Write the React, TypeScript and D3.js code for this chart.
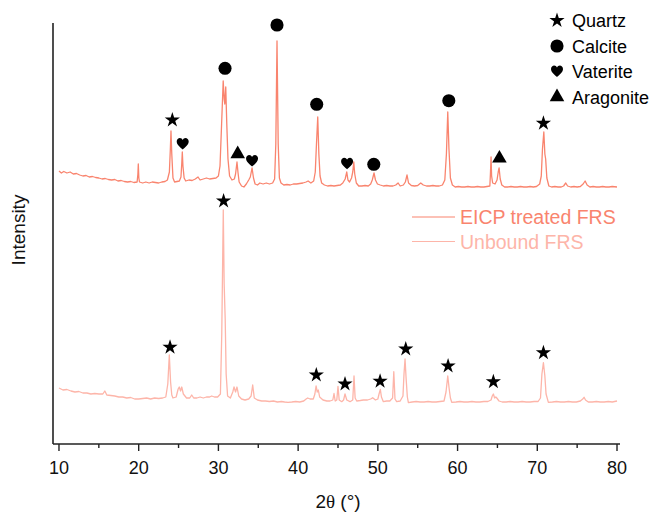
import React from "react";
import * as d3 from "d3";

// ---- Data (2θ in degrees, intensity in arbitrary units) ----
const eicpTreated: [number, number][] = [
  [10.0,273],[10.3,271],[10.6,272.5],[11.0,271],[11.4,272],[11.8,270],[12.2,270.5],[12.6,269],[13.0,268],[13.4,268.5],[13.8,267],[14.2,267.5],[14.6,266.5],[15.0,266],[15.4,265],[15.8,265.5],[16.2,264.5],[16.6,264],[17.0,264.5],[17.4,263],[17.8,263.5],[18.2,262.5],[18.6,262],[19.0,262.5],[19.4,261.5],[19.8,262],[19.9,270],[19.95,280],[20.02,266],[20.1,262],[20.5,261],[20.9,262],[21.3,261],[21.7,262],[22.1,261.5],[22.5,261],[22.9,262],[23.3,262.5],[23.6,264],[23.85,272],[23.97,295],[24.05,313],[24.15,290],[24.3,266],[24.5,262],[24.8,262.5],[25.1,263],[25.3,267],[25.4,280],[25.47,292],[25.55,278],[25.7,266],[25.9,263],[26.3,264],[26.7,263.5],[27.1,265],[27.44,267],[27.7,264],[28.1,265],[28.5,266],[28.9,265],[29.3,265.5],[29.7,266],[30.0,268],[30.2,278],[30.4,320],[30.6,363],[30.72,345],[30.8,340],[30.92,357],[31.05,320],[31.2,285],[31.4,268],[31.7,264],[32.0,265],[32.15,270],[32.33,282],[32.45,272],[32.6,262],[32.9,258],[33.2,257],[33.5,260],[33.8,264],[34.0,267],[34.22,276],[34.4,266],[34.6,260],[34.9,259],[35.2,261],[35.6,260],[36.0,261],[36.4,260],[36.8,261],[37.05,265],[37.2,300],[37.35,403],[37.5,300],[37.65,266],[37.85,261],[38.2,259],[38.6,259.5],[39.0,259],[39.4,260],[39.8,260],[40.2,260.5],[40.6,261],[41.0,262],[41.25,263],[41.6,261],[41.95,263],[42.15,272],[42.3,300],[42.46,327],[42.6,290],[42.75,268],[42.95,261],[43.3,259],[43.7,258],[44.1,258.5],[44.5,258],[44.9,258.5],[45.3,259],[45.6,261],[45.9,265],[46.1,272],[46.25,264],[46.45,262],[46.7,266],[46.85,272],[46.98,282],[47.1,270],[47.3,261],[47.6,258],[48.0,258],[48.4,258.5],[48.8,258],[49.1,260],[49.3,264],[49.52,271],[49.7,264],[49.95,260],[50.3,259],[50.7,258],[51.1,258.5],[51.5,258],[51.9,258],[52.25,259],[52.54,261],[52.8,258],[53.2,259],[53.45,262],[53.66,269],[53.85,261],[54.2,258.5],[54.6,258],[55.0,258.5],[55.38,261],[55.7,259],[56.1,258],[56.5,258],[56.9,258.5],[57.3,258],[57.7,258],[58.1,259],[58.4,264],[58.6,290],[58.77,332],[58.92,295],[59.1,266],[59.35,259],[59.7,257],[60.1,257.5],[60.5,257],[60.9,257],[61.3,257.5],[61.7,257],[62.1,257],[62.5,257.5],[62.9,257],[63.3,257],[63.7,257.5],[64.05,258],[64.12,270],[64.2,287],[64.27,268],[64.4,261],[64.7,260],[64.95,264],[65.1,272],[65.21,276],[65.35,265],[65.55,259],[65.9,257],[66.3,257],[66.7,257.5],[67.1,257],[67.5,257],[67.9,257.5],[68.3,257],[68.7,257],[69.1,257.5],[69.5,257],[69.9,257.5],[70.3,260],[70.5,268],[70.65,295],[70.82,312],[70.95,290],[71.05,285],[71.2,266],[71.45,258],[71.8,257],[72.2,257.5],[72.6,257],[73.0,257],[73.3,258],[73.57,261],[73.8,258],[74.2,257],[74.6,257.5],[75.0,257],[75.4,257.5],[75.75,260],[76.0,263],[76.25,259],[76.6,257],[77.0,257.5],[77.4,257],[77.8,257],[78.2,257.5],[78.6,257],[79.0,257],[79.4,257.5],[80.0,257],
];

const unbound: [number, number][] = [
  [10.0,56],[10.5,54],[11,54.5],[11.5,53],[12,52],[12.5,52.5],[13,51],[13.5,51],[14,50],[14.5,50.5],[15,50],[15.5,50],[15.75,53],[16,49],[16.5,48.5],[17,48],[17.5,47],[18,47],[18.5,46],[19,46.5],[19.5,45],[20,45],[20.5,45.5],[21,46],[21.5,45],[22,46],[22.5,45.5],[23,46],[23.4,47],[23.65,60],[23.84,89],[24.0,62],[24.15,49],[24.3,46],[24.7,47],[24.95,55],[25.09,57],[25.25,53],[25.4,57],[25.6,50],[26.0,46],[26.4,46],[26.65,49],[26.9,46],[27.3,46],[27.7,47],[28.1,46],[28.5,47],[28.9,47],[29.16,48],[29.5,47],[29.9,47],[30.25,50],[30.42,110],[30.61,234],[30.72,160],[30.85,125],[30.97,70],[31.15,48],[31.5,46],[31.8,52],[31.96,57],[32.15,52],[32.33,57],[32.55,48],[32.9,45],[33.34,44],[33.8,45],[34.1,48],[34.3,59],[34.5,46],[34.9,44],[35.43,43],[35.9,43],[36.4,42.5],[36.9,43],[37.4,42],[37.9,42.5],[38.3,42],[38.73,41.7],[39.2,42],[39.7,42.5],[40.2,42],[40.7,43],[41.0,45],[41.2,46],[41.5,45],[41.9,45],[42.1,50],[42.25,58],[42.4,52],[42.53,54],[42.7,47],[43.12,44],[43.6,43],[44.0,43],[44.35,44],[44.5,50.5],[44.65,43],[44.85,44],[45.0,57.7],[45.15,44],[45.47,42.3],[45.7,44],[45.88,50],[46.1,44],[46.51,42.3],[46.85,44],[47.01,68],[47.15,46],[47.35,43],[47.8,43.5],[48.18,44],[48.7,44],[49.1,45],[49.35,46.3],[49.7,44],[50.0,45],[50.15,50],[50.31,54.7],[50.45,47],[50.69,42.3],[51.1,43],[51.5,43],[51.85,46],[52.0,72.3],[52.15,45],[52.36,42.3],[52.8,43],[53.15,48],[53.28,70],[53.41,85],[53.55,65],[53.7,47],[53.83,41.3],[54.3,42],[54.8,42.5],[55.3,42],[55.8,42],[56.3,42.5],[56.8,42],[57.3,42],[57.8,42.5],[58.3,43],[58.55,52],[58.77,68],[58.95,55],[59.1,46],[59.27,41.7],[59.8,42],[60.3,42.5],[60.8,42],[61.3,42],[61.8,42.5],[62.3,42],[62.8,42],[63.3,42.5],[63.8,42.5],[64.2,44],[64.35,48],[64.49,50],[64.65,46],[64.8,47],[64.92,46],[65.2,43],[65.6,42],[66.1,42],[66.6,42.5],[67.1,42],[67.6,42],[68.1,42.5],[68.6,42],[69.1,42],[69.6,42.5],[70.1,42.5],[70.4,46],[70.58,70],[70.77,81.3],[70.95,68],[71.1,50],[71.39,41.7],[71.9,42],[72.4,42.5],[72.9,42],[73.4,42],[73.9,42.5],[74.4,42],[74.9,42],[75.4,43],[75.7,45],[75.87,46.7],[76.05,44],[76.4,42],[76.9,42],[77.4,42.5],[77.9,42],[78.4,42],[78.9,42.5],[79.4,42],[80.0,43],
];

type Phase = "Quartz" | "Calcite" | "Vaterite" | "Aragonite";
const phases: Phase[] = ["Quartz", "Calcite", "Vaterite", "Aragonite"];

const eicpMarkers: [number, number, Phase][] = [
  [24.22, 324, "Quartz"], [25.52, 300, "Vaterite"], [30.83, 375.7, "Calcite"],
  [32.42, 290, "Aragonite"], [34.22, 283, "Vaterite"], [37.35, 419, "Calcite"],
  [42.33, 339.7, "Calcite"], [46.14, 280.3, "Vaterite"], [49.49, 279.7, "Calcite"],
  [58.9, 343.3, "Calcite"], [65.25, 285.7, "Aragonite"], [70.77, 320.7, "Quartz"],
];
const unboundMarkers: [number, number, Phase][] = [
  [23.93, 96.7, "Quartz"], [30.65, 243, "Quartz"], [42.28, 69, "Quartz"],
  [45.88, 60, "Quartz"], [50.28, 62.7, "Quartz"], [53.5, 95, "Quartz"],
  [58.81, 78, "Quartz"], [64.49, 62.3, "Quartz"], [70.77, 91.3, "Quartz"],
];

const seriesNames = ["EICP treated FRS", "Unbound FRS"];
const xTicks = [10, 20, 30, 40, 50, 60, 70, 80];
const xMinorTicks = [15, 25, 35, 45, 55, 65, 75];

// ---- Layout ----
const W = 649, H = 515;
const colors = ["#F9846E", "#FDB5A9"];
const font = "'Liberation Sans', Arial, sans-serif";

const x = d3.scaleLinear().domain([9.25, 80.25]).range([53, 619]);
const y = d3.scaleLinear().domain([0, 421]).range([444, 23]);

const heartPath =
  "M0,5.5 C-2,3.8 -6,1 -6,-2.4 C-6,-4.8 -4.3,-6 -2.9,-6 C-1.5,-6 -0.5,-5.1 0,-4.1 C0.5,-5.1 1.5,-6 2.9,-6 C4.3,-6 6,-4.8 6,-2.4 C6,1 2,3.8 0,5.5 Z";

function symbolPath(p: Phase): string {
  if (p === "Quartz") return d3.symbol(d3.symbolStar, 72)()!;
  if (p === "Calcite") return d3.symbol(d3.symbolCircle, 135)()!;
  if (p === "Aragonite") return d3.symbol(d3.symbolTriangle, 92)()!;
  return heartPath;
}

export default function App() {
  const line = d3
    .line<[number, number]>()
    .x((d) => x(d[0]))
    .y((d) => y(d[1]));

  return (
    <svg
      width={W}
      height={H}
      style={{ position: "absolute", left: 0, top: 0, background: "#fff" }}
      fontFamily={font}
    >
      {/* traces */}
      <path d={line(unbound)!} fill="none" stroke={colors[1]} strokeWidth={1.3} strokeLinejoin="round" />
      <path d={line(eicpTreated)!} fill="none" stroke={colors[0]} strokeWidth={1.3} strokeLinejoin="round" />

      {/* axes */}
      <line x1={53} x2={53} y1={y(421)} y2={y(0)} stroke="#222" strokeWidth={1.6} />
      <line x1={53} x2={620} y1={y(0)} y2={y(0)} stroke="#222" strokeWidth={1.6} />
      {xTicks.map((t) => (
        <g key={t} transform={`translate(${x(t)},${y(0)})`}>
          <line y1={0} y2={7} stroke="#222" strokeWidth={1.4} />
          <text y={29.5} textAnchor="middle" fontSize={18} fill="#111">
            {t}
          </text>
        </g>
      ))}
      {xMinorTicks.map((t) => (
        <line key={t} x1={x(t)} x2={x(t)} y1={y(0)} y2={y(0) + 4} stroke="#222" strokeWidth={1.4} />
      ))}
      <text x={338} y={508} textAnchor="middle" fontSize={19} fill="#111">
        2<tspan fontFamily="'Liberation Serif', 'Times New Roman', serif">θ</tspan> (°)
      </text>
      <text
        transform={`translate(25,230) rotate(-90)`}
        textAnchor="middle"
        fontSize={19}
        fill="#111"
      >
        Intensity
      </text>

      {/* phase markers */}
      {[...eicpMarkers, ...unboundMarkers].map((m, i) => (
        <path key={i} d={symbolPath(m[2])} transform={`translate(${x(m[0])},${y(m[1])})`} fill="#000" />
      ))}

      {/* phase legend */}
      {phases.map((p, i) => (
        <g key={p} transform={`translate(557,${20.5 + i * 25.5})`}>
          <path d={symbolPath(p)} fill="#000" />
          <text x={15} y={6.5} fontSize={18} fill="#000">
            {p}
          </text>
        </g>
      ))}

      {/* series legend */}
      {seriesNames.map((s, i) => (
        <g key={s} transform={`translate(412,${217 + i * 24.5})`}>
          <line x1={0} x2={43} y1={0} y2={0} stroke={colors[i]} strokeWidth={1.2} />
          <text x={48} y={7} fontSize={19.5} fill={colors[i]}>
            {s}
          </text>
        </g>
      ))}
    </svg>
  );
}
